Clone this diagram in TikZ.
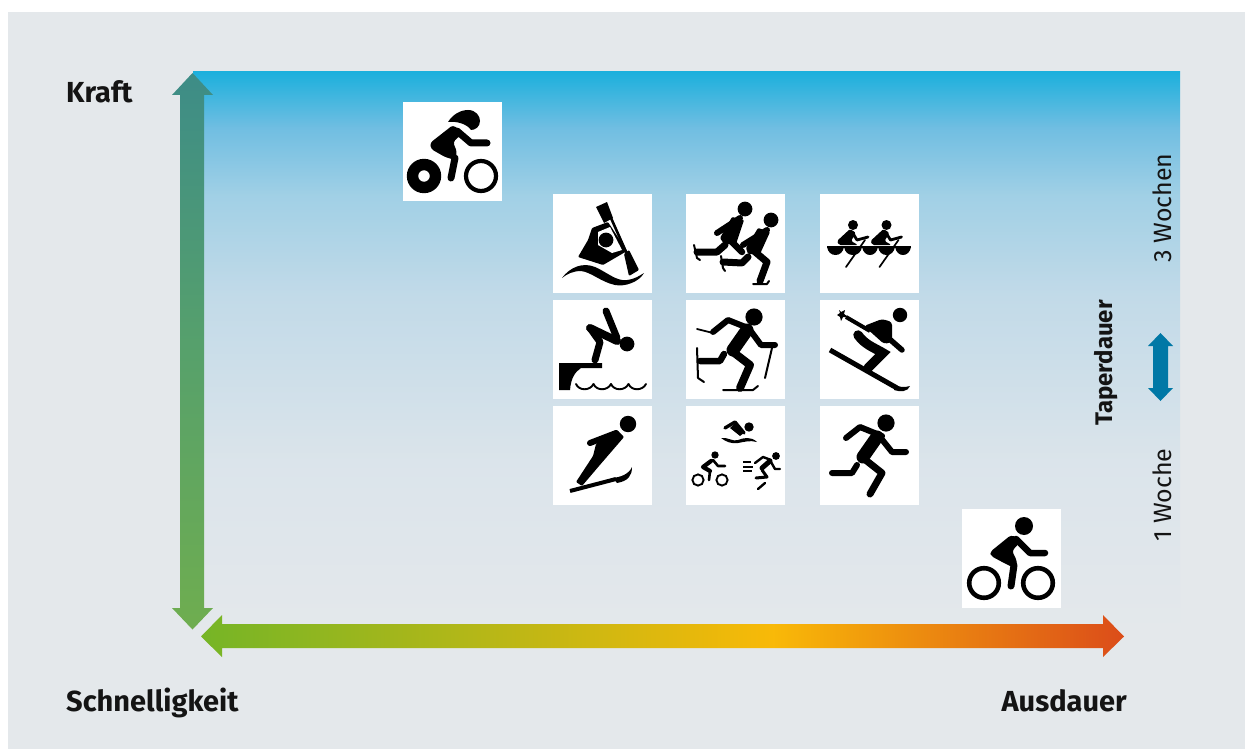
\documentclass[tikz,border=0pt]{standalone}
\usepackage{fontspec}
\setmainfont{Fira Sans}
\pgfdeclareverticalshading{panelshade}{100bp}{
 rgb(0bp)=(0.894,0.910,0.922);
 rgb(25bp)=(0.894,0.910,0.922);
 rgb(40bp)=(0.860,0.895,0.920);
 rgb(55bp)=(0.760,0.855,0.910);
 rgb(64bp)=(0.630,0.815,0.900);
 rgb(70bp)=(0.440,0.745,0.885);
 rgb(75bp)=(0.110,0.690,0.865);
 rgb(100bp)=(0.110,0.690,0.865)}
\pgfdeclareverticalshading{vaxis}{100bp}{
 rgb(0bp)=(0.435,0.680,0.310);
 rgb(25bp)=(0.435,0.680,0.310);
 rgb(50bp)=(0.340,0.630,0.420);
 rgb(75bp)=(0.240,0.550,0.530);
 rgb(100bp)=(0.240,0.550,0.530)}
\pgfdeclarehorizontalshading{haxis}{100bp}{
 rgb(0bp)=(0.460,0.710,0.150);
 rgb(25bp)=(0.460,0.710,0.150);
 rgb(56bp)=(0.975,0.725,0.030);
 rgb(75bp)=(0.860,0.300,0.100);
 rgb(100bp)=(0.860,0.300,0.100)}
\definecolor{bggray}{HTML}{E4E8EB}
\definecolor{taperblue}{HTML}{0078A6}
\tikzset{
 ic/.style={line cap=round,line join=round,draw=black,line width=#1},
 tile/.style={fill=white,minimum size=99pt,inner sep=0pt,outer sep=0pt,anchor=north west},
 biglabel/.style={font=\fontsize{29}{29}\selectfont\bfseries,inner sep=0pt,text=black!92},
 sidelabel/.style={font=\fontsize{25}{25}\selectfont,inner sep=0pt,rotate=90,text=black!92},
 taperlabel/.style={font=\fontsize{24}{24}\selectfont\bfseries,inner sep=0pt,rotate=90,text=black!92},
}
\newcommand{\icTT}{%
 \fill (45,20) .. controls (50,12) and (58,8) .. (65,8) .. controls (73,8) and (77,14) .. (77,19)
   .. controls (77,25) and (72,28) .. (68,28) .. controls (64,22) and (54,19) .. (45,20) -- cycle;
 \draw[ic=7] (54,29) -- (68,41) -- (84,41);
 \fill[rounded corners=3pt] (27,41) -- (50,23) -- (60,31) -- (50,40) -- (54,50) -- (52,58) -- (42,55) -- (28,47) -- cycle;
 \draw[ic=7] (52,56) -- (48,76);
 \fill[even odd rule] (21,74) circle (17.2) (21,74) circle (5.8);
 \draw[line width=4.2] (78,74) circle (15);
}
\newcommand{\icBike}{%
 \fill (62,17) circle (9);
 \draw[ic=6.5] (54,30) -- (68,44) -- (83,44);
 \fill[rounded corners=3pt] (28,43) -- (49,26) -- (60,31) -- (50,42) -- (55,52) -- (54,60) -- (42,54) -- (29,47) -- cycle;
 \draw[ic=7] (52,56) -- (49,77);
 \draw[line width=4.6] (22,74) circle (14.8);
 \draw[line width=4.6] (76,74) circle (14.8);
}
\newcommand{\icKayak}{%
 \fill (43,13) -- (54,8) -- (60,24) -- (51,29) -- cycle;
 \fill[rounded corners=1pt] (39,34) -- (55,28) -- (74,57) -- (50,71) -- (25,63) -- (35,46) -- cycle;
 \fill[white] (45,38) -- (57,33) -- (69,56) -- (59,59) -- (45,51) -- cycle;
 \fill (53,46) circle (7.4);
 \draw[ic=2.6] (58,24) -- (74,60);
 \fill[rounded corners=1pt] (71,60) -- (76,56) -- (86,76) -- (76,82) -- cycle;
 \fill (9,84) .. controls (17,73) and (30,68) .. (42,73) .. controls (52,77) and (64,88) .. (74,86)
   .. controls (82,85) and (86,82) .. (91,79) .. controls (86,88) and (72,93) .. (62,91)
   .. controls (48,88) and (38,78) .. (28,77) .. controls (20,77) and (14,80) .. (9,84) -- cycle;
}
\newcommand{\icSkate}{%
 \fill (59,15) circle (7.4);
 \draw[ic=6] (31,39) -- (54,24);
 \draw[ic=7] (39,51) -- (31,58) -- (11,58);
 \draw[ic=2] (8,51) -- (11,64) -- (14,66);
 \fill[rounded corners=1pt] (46,23) -- (58,26) -- (50,50) -- (38,50) -- (34,44) -- cycle;
 \draw[ic=6.5] (44,46) -- (56,58);
 \fill (85,26) circle (7.4);
 \draw[ic=7] (62,63) -- (56,69) -- (37,68);
 \draw[ic=2] (35,62) -- (37,74) -- (39,77);
 \draw[white,line width=8] (62,55) -- (79,36);
 \draw[ic=6] (57,51) -- (81,36);
 \fill[rounded corners=1pt] (72,34) -- (84,38) -- (74,60) -- (62,60) -- (60,54) -- cycle;
 \draw[ic=7] (68,57) -- (81,68) -- (74,87);
 \draw[ic=2] (67,90) -- (81,90) -- (83,87);
}
\newcommand{\icRow}{%
 \foreach \c in {0,33.5}{\begin{scope}[shift={(\c,0)}]
  \fill (33,31) circle (5);
  \fill[rounded corners=1.5pt] (30,35) -- (36,39) -- (31,47) -- (38,51) -- (19,51) -- (17,47) -- cycle;
  \draw[ic=2.8] (32,38) -- (37,46) -- (48,43);
  \draw[ic=1.7] (45,46) -- (26,73);
 \end{scope}}
 \fill (7,52) -- (91,52) -- (91,54) -- (7,54) -- cycle;
 \foreach \a/\b in {7/24,24/42,42/58,58/75,75/91}{
  \fill (\a,53) .. controls (\a+1,58) and (\a+4,61) .. ({(\a+\b)/2},61) .. controls (\b-4,61) and (\b-1,58) .. (\b,53) -- cycle;}
}
\newcommand{\icDive}{%
 \fill (6,63) -- (49,63) -- (49,68) -- (28,68) .. controls (22,72) and (18,78) .. (17,90) -- (6,90) -- cycle;
 \foreach \c in {0,17.5,35,52.5}{\draw[ic=1.9] (23+\c,84) .. controls (26+\c,91) and (37+\c,91) .. (40.5+\c,84);}
 \fill (74,44) circle (7.4);
 \draw[ic=7] (53,11) -- (64,38);
 \draw[ic=8] (37,28) -- (64,41);
 \draw[ic=7] (37,28) -- (47,42) -- (42,60);
}
\newcommand{\icSkiRun}{%
 \fill (68,17) circle (8.6);
 \draw[ic=6.5] (38,54) -- (34,61) -- (14,61);
 \draw[ic=2] (11,48) -- (12,78) -- (18,82);
 \draw[white,line width=18,line cap=butt] (61,29) -- (46,50);
 \draw[ic=6] (27,32) -- (42,20) -- (62,28);
 \draw[ic=1.8] (11,29) -- (27,33);
 \draw[ic=13] (61,30) -- (47,50);
 \draw[ic=6] (64,30) -- (75,45) -- (89,45);
 \draw[ic=2] (86,48) -- (79,78);
 \draw[ic=8] (47,52) -- (64,65) -- (54,88);
 \draw[ic=2] (37,90) -- (67,90) -- (72,86);
}
\newcommand{\icSki}{%
 \fill (80,15) circle (7.2);
 \draw[line width=1.8] (20,13) -- (55,33);
 \fill (19,10) -- (21,12) -- (25,10) -- (24,14) -- (27,17) -- (23,17) -- (21,21) -- (20,17) -- (17,15) -- (20,13) -- cycle;
 \draw[line width=4] (26,17) -- (50,31);
 \fill[rounded corners=3pt] (44,26) -- (62,19) -- (72,22) -- (72,42) -- (64,44) -- cycle;
 \draw[ic=5.5] (66,36) -- (82,50);
 \draw[ic=9.5,line join=miter] (38,35) .. controls (45,45) and (55,48) .. (63,53) -- (48,68);
 \draw[line width=5] (10,50) -- (77,88);
 \fill (74,84) .. controls (78,87) and (84,88) .. (90,86) .. controls (88,92) and (80,92) .. (74,90) -- cycle;
}
\newcommand{\icJump}{%
 \fill (75,18) circle (8.2);
 \draw[ic=6] (37,37) -- (63,27);
 \fill[rounded corners=1pt] (64,24) -- (71,31) -- (46,60) -- (29,80) -- (23,76) -- (40,50) -- (43,38) -- cycle;
 \draw[line width=4] (17,85) -- (63,73);
 \fill (60,72) .. controls (68,71) and (76,68) .. (79,61) .. controls (79,70) and (75,75) .. (64,77) -- cycle;
}
\newcommand{\icTri}{%
 \fill (63,21) circle (4.7);
 \draw[ic=3.4] (39,22) -- (49,16) -- (58,27);
 \fill (49,17) -- (59,26) -- (54,30) -- (44,22) -- cycle;
 \fill (35,32) .. controls (42,31) and (47,36) .. (52,34) .. controls (57,32) and (65,30) .. (71,36) .. controls (64,34) and (58,36) .. (52,37) .. controls (46,38) and (40,36) .. (35,32) -- cycle;
 \fill (29,49) circle (3.7);
 \draw[ic=2.6] (27,54) -- (32,60) -- (39,60);
 \draw[ic=4.2] (25,55) -- (17,61) -- (24,65);
 \draw[ic=2.6] (24,65) -- (23,74);
 \draw[line width=1.9] (12,74) circle (5.6);
 \draw[line width=1.9] (36,74) circle (5.6);
 \fill (90,50) circle (3.9);
 \draw[ic=2.4] (69,57) -- (77,51) -- (85,54);
 \draw[ic=5] (84,55) -- (76,62);
 \draw[ic=2.4] (85,56) -- (89,63) -- (94,63);
 \draw[ic=3] (76,64) -- (81,71) -- (70,72);
 \draw[ic=2.4] (79,77) -- (72,83);
 \draw[line width=1.6] (57,56) -- (65,56) (57,61) -- (67,61) (57,65) -- (66,65);
}
\newcommand{\icRun}{%
 \fill (66,17) circle (8.6);
 \draw[ic=6] (37,59) -- (32,67) -- (12,67);
 \draw[white,line width=18,line cap=butt] (57,31) -- (43,51);
 \draw[ic=6] (26,32) -- (40,21) -- (62,30);
 \draw[ic=13] (57,31) -- (43,51);
 \draw[ic=6] (60,31) -- (72,46) -- (86,46);
 \draw[ic=7] (43,52) -- (62,67) -- (50,88);
}
\begin{document}
\begin{tikzpicture}[x=1pt,y=-1pt]
\useasboundingbox (0,0) rectangle (1245,749);
\fill[white] (0,0) rectangle (1245,749);
\fill[bggray] (8,12) rectangle (1245,749);
\shade[shading=panelshade] (193,72) rectangle (1180,632);
\shade[shading=vaxis] (192.5,73) -- (213,95) -- (204,95) -- (204,608) -- (213,608) -- (192.5,629.5) -- (172,608) -- (180,608) -- (180,95) -- (172,95) -- cycle;
\shade[shading=haxis] (201,636.5) -- (222,615) -- (222,624) -- (1103,624) -- (1103,615) -- (1124,636.5) -- (1103,657) -- (1103,648) -- (222,648) -- (222,657) -- cycle;
\fill[taperblue] (1160.5,333) -- (1173,346) -- (1168,346) -- (1168,388) -- (1173,388) -- (1160.5,401) -- (1148,388) -- (1153,388) -- (1153,346) -- (1148,346) -- cycle;
\node[tile] (tt) at (403,102) {};
\node[tile] (kayak) at (553,194) {};
\node[tile] (skate) at (686,194) {};
\node[tile] (row) at (820,194) {};
\node[tile] (dive) at (553,300) {};
\node[tile] (skirun) at (686,300) {};
\node[tile] (ski) at (820,300) {};
\node[tile] (jump) at (553,406) {};
\node[tile] (tri) at (686,406) {};
\node[tile] (run) at (820,406) {};
\node[tile] (bike) at (962,509) {};
\begin{scope}[shift={(403,102)}]\icTT\end{scope}
\begin{scope}[shift={(553,194)}]\icKayak\end{scope}
\begin{scope}[shift={(686,194)}]\icSkate\end{scope}
\begin{scope}[shift={(820,194)}]\icRow\end{scope}
\begin{scope}[shift={(553,300)}]\icDive\end{scope}
\begin{scope}[shift={(686,300)}]\icSkiRun\end{scope}
\begin{scope}[shift={(820,300)}]\icSki\end{scope}
\begin{scope}[shift={(553,406)}]\icJump\end{scope}
\begin{scope}[shift={(686,406)}]\icTri\end{scope}
\begin{scope}[shift={(820,406)}]\icRun\end{scope}
\begin{scope}[shift={(962,509)}]\icBike\end{scope}
\node[biglabel,anchor=base west] (kraft) at (66,103) {Kraft};
\node[biglabel,anchor=base west] (schnell) at (66,711) {Schnelligkeit};
\node[biglabel,anchor=base east] (aus) at (1127,711) {Ausdauer};
\node[taperlabel,anchor=base] (taper) at (1112,363) {Taperdauer};
\node[sidelabel,anchor=base] (w3) at (1171,208) {3 Wochen};
\node[sidelabel,anchor=base] (w1) at (1171,495) {1 Woche};
\end{tikzpicture}
\end{document}
